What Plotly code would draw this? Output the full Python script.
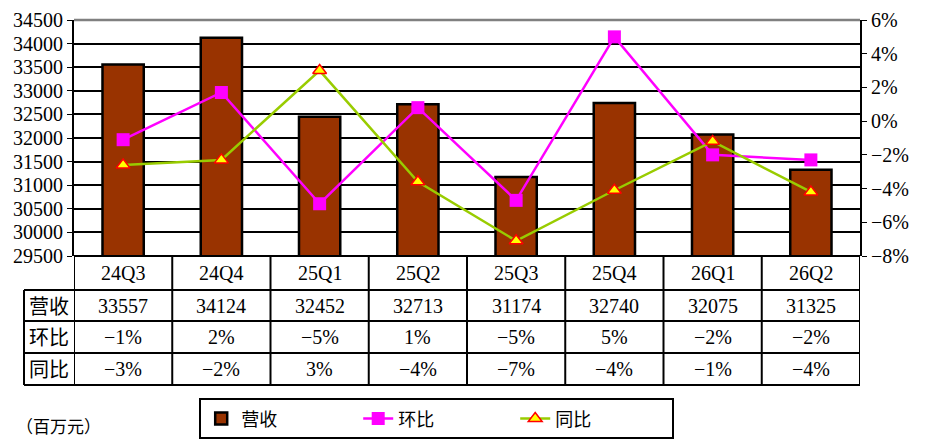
import plotly.graph_objects as go

# 数据
quarters = ['24Q3', '24Q4', '25Q1', '25Q2', '25Q3', '25Q4', '26Q1', '26Q2']
revenue = [33557, 34124, 32452, 32713, 31174, 32740, 32075, 31325]   # 营收 (百万元)
qoq = [-1.1, 1.7, -4.9, 0.8, -4.7, 5.0, -2.0, -2.3]                  # 环比 %
yoy = [-2.6, -2.3, 3.0, -3.6, -7.1, -4.1, -1.2, -4.2]                # 同比 %
row_labels = ['营收', '环比', '同比']

FONT = 'Liberation Serif'
CN_FONT = 'Noto Sans CJK SC'

fig = go.Figure()
fig.add_trace(go.Bar(
    x=quarters, y=revenue, name='营收', width=0.42,
    marker=dict(color='#993300', line=dict(color='black', width=2.5)),
))
fig.add_trace(go.Scatter(
    x=quarters, y=qoq, name='环比', yaxis='y2', mode='lines+markers',
    line=dict(color='#FF00FF', width=2.5),
    marker=dict(symbol='square', size=13, color='#FF00FF'),
))
fig.add_trace(go.Scatter(
    x=quarters, y=yoy, name='同比', yaxis='y2', mode='lines+markers',
    line=dict(color='#99CC00', width=2.5),
    marker=dict(symbol='triangle-up', size=12, color='#FFFF00',
                line=dict(color='#FF0000', width=1.5)),
))

# 表格 (行边界, paper 坐标; 绘图区高 236px)
rows_y = [0, -0.1441, -0.2754, -0.4110, -0.5466]
left_x = -0.0636
shapes = []
for i, yy in enumerate(rows_y):
    shapes.append(dict(type='line', xref='paper', yref='paper',
                       x0=0 if i == 0 else left_x, x1=1, y0=yy, y1=yy,
                       line=dict(color='black', width=2)))
for k in range(len(quarters) + 1):
    shapes.append(dict(type='line', xref='x', yref='paper',
                       x0=k - 0.5, x1=k - 0.5, y0=0, y1=rows_y[-1],
                       line=dict(color='black', width=2)))
shapes.append(dict(type='line', xref='paper', yref='paper',
                   x0=left_x, x1=left_x, y0=rows_y[1], y1=rows_y[-1],
                   line=dict(color='black', width=2)))
# 顶部灰色边框
shapes.append(dict(type='line', xref='paper', yref='paper', x0=0, x1=1, y0=1, y1=1,
                   line=dict(color='#808080', width=2.5)))

def pct(v):
    r = int(round(v))
    return ('−%d%%' % -r) if r < 0 else ('%d%%' % r)

annotations = []
row_texts = [quarters, [str(v) for v in revenue], [pct(v) for v in qoq], [pct(v) for v in yoy]]
for r, texts in enumerate(row_texts):
    yc = (rows_y[r] + rows_y[r + 1]) / 2
    for q, t in zip(quarters, texts):
        annotations.append(dict(x=q, y=yc, xref='x', yref='paper', text=t,
                                xanchor='center', yanchor='middle', showarrow=False,
                                font=dict(family=FONT, size=20, color='black')))
for r, lab in enumerate(row_labels):
    yc = (rows_y[r + 1] + rows_y[r + 2]) / 2
    annotations.append(dict(x=left_x / 2, y=yc, xref='paper', yref='paper', text=lab,
                            xanchor='center', yanchor='middle', showarrow=False,
                            font=dict(family=CN_FONT, size=20, color='black')))
annotations.append(dict(x=-0.076, y=-0.72, xref='paper', yref='paper', text='（百万元）',
                        xanchor='left', yanchor='middle', showarrow=False,
                        font=dict(family=CN_FONT, size=17, color='black')))

# 页面 body 有 8px 边距, 图整体往左上收 8px
fig.update_layout(
    width=918, height=440,
    margin=dict(l=66, r=66, t=12, b=192),
    plot_bgcolor='white', paper_bgcolor='white',
    font=dict(family=FONT, size=20, color='black'),
    showlegend=True,
    legend=dict(orientation='h', xref='container', yref='container',
                x=0.467, xanchor='center', y=0.113, yanchor='top',
                bordercolor='black', borderwidth=2, bgcolor='white',
                font=dict(family=CN_FONT, size=18), entrywidth=112),
    xaxis=dict(type='category', range=[-0.5, 7.5], showticklabels=False,
               showline=False, showgrid=False, zeroline=False, automargin=False),
    yaxis=dict(range=[29500, 34500], dtick=500, tickformat='d', showgrid=True,
               gridcolor='black', gridwidth=2, showline=True, linecolor='black',
               linewidth=2, ticks='outside', ticklen=5, tickcolor='black',
               zeroline=False, automargin=False, ticklabeloverflow='allow',
               tickfont=dict(family=FONT, size=20)),
    yaxis2=dict(range=[-8, 6], dtick=2, ticksuffix='%', overlaying='y', side='right',
                showgrid=False, zeroline=False, showline=True, linecolor='black',
                linewidth=2, ticks='outside', ticklen=5, tickcolor='black',
                automargin=False, ticklabeloverflow='allow',
                tickfont=dict(family=FONT, size=20)),
    shapes=shapes,
    annotations=annotations,
)

fig.write_html('out.html')
